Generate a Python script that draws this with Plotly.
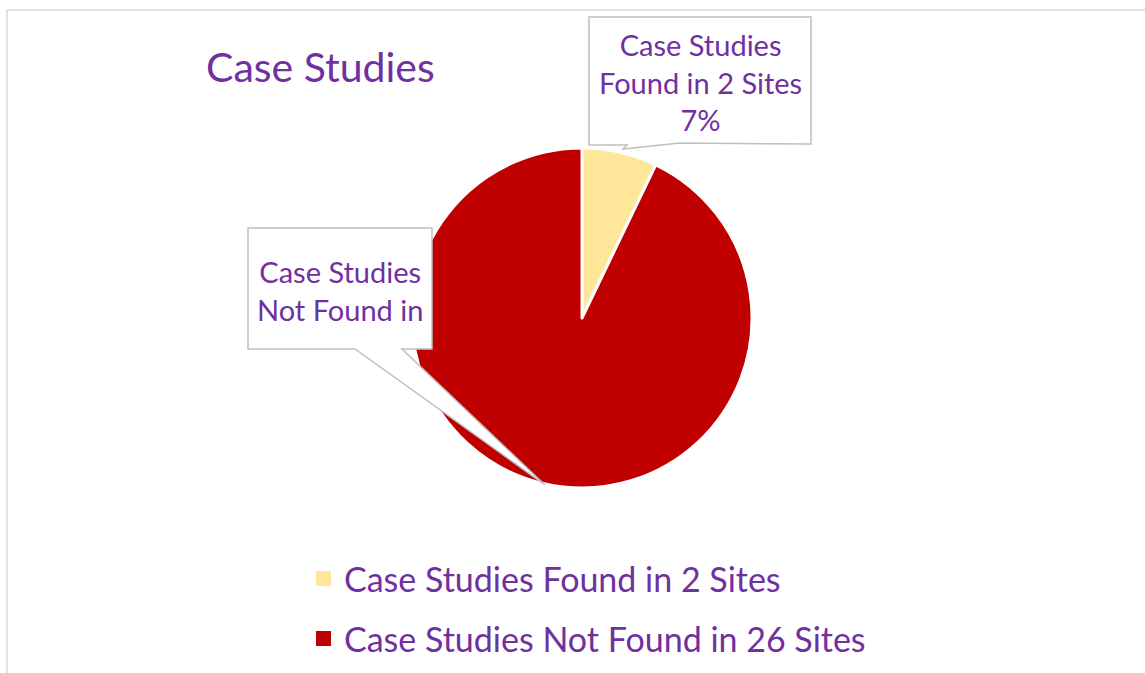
import plotly.graph_objects as go

# ---- data ----
labels = ["Case Studies Found in 2 Sites", "Case Studies Not Found in 26 Sites"]
values = [2, 26]
colors = ["#FFE699", "#C00000"]
title_text = "Case Studies"
callout_texts = ["Case Studies<br>Found in 2 Sites", "Case Studies<br>Not Found in"]

W, H = 1145, 673
PURPLE = "#7030A0"
FONT = "Lato"

def px(x):
    return x / W

def py(y):
    return 1 - y / H

def path(points):
    s = "M " + " L ".join(f"{px(x):.5f},{py(y):.5f}" for x, y in points) + " Z"
    return s

cx, cy, r = 582, 318, 170

fig = go.Figure()
fig.add_trace(go.Pie(
    labels=labels,
    values=values,
    sort=False,
    direction="clockwise",
    rotation=0,
    textinfo="none",
    marker=dict(colors=colors, line=dict(color="white", width=3)),
    domain=dict(x=[px(cx - r), px(cx + r)], y=[py(cy + r), py(cy - r)]),
    showlegend=False,
    hoverinfo="label+percent",
))

total = sum(values)
pct = [round(100 * v / total) for v in values]

shapes = []
# outer chart border
shapes.append(dict(type="rect", xref="paper", yref="paper",
                   x0=px(7), x1=px(W + 20), y0=py(H + 20), y1=py(10),
                   line=dict(color="#D9D9D9", width=1.5), fillcolor="rgba(0,0,0,0)", layer="below"))
# callout 1
shapes.append(dict(type="path", xref="paper", yref="paper", layer="above",
                   path=path([(589, 17), (811, 17), (811, 144), (680, 143), (623, 149), (627, 145), (589, 145)]),
                   fillcolor="white", line=dict(color="#BFBFBF", width=1.5)))
# callout 2
shapes.append(dict(type="path", xref="paper", yref="paper", layer="above",
                   path=path([(248, 228), (432, 228), (432, 349), (402, 349), (545, 485), (355, 349), (248, 349)]),
                   fillcolor="white", line=dict(color="#BFBFBF", width=1.5)))

annotations = []
annotations.append(dict(text=title_text, x=px(204), y=py(67), xref="paper", yref="paper",
                        xanchor="left", yanchor="middle", showarrow=False,
                        font=dict(family=FONT, size=41, color=PURPLE)))
annotations.append(dict(text=f"{callout_texts[0]}<br>{pct[0]}%", x=px(700), y=py(82), xref="paper", yref="paper",
                        xanchor="center", yanchor="middle", showarrow=False,
                        font=dict(family=FONT, size=29, color=PURPLE)))
annotations.append(dict(text=callout_texts[1], x=px(340), y=py(290), xref="paper", yref="paper",
                        xanchor="center", yanchor="middle", showarrow=False,
                        font=dict(family=FONT, size=29, color=PURPLE)))

# manual legend
leg_y = [578, 638]
for lab, col, ly in zip(labels, colors, leg_y):
    shapes.append(dict(type="rect", xref="paper", yref="paper",
                       x0=px(316), x1=px(331), y0=py(ly + 8), y1=py(ly - 7),
                       fillcolor=col, line=dict(width=0)))
    annotations.append(dict(text=lab, x=px(342), y=py(ly), xref="paper", yref="paper",
                            xanchor="left", yanchor="middle", showarrow=False,
                            font=dict(family=FONT, size=34, color=PURPLE)))

fig.update_layout(
    width=W, height=H,
    margin=dict(l=0, r=0, t=0, b=0),
    paper_bgcolor="white",
    plot_bgcolor="white",
    shapes=shapes,
    annotations=annotations,
    showlegend=False,
)

fig.write_html("out.html", config={"displayModeBar": False},
               post_script="document.body.style.margin='0';")
